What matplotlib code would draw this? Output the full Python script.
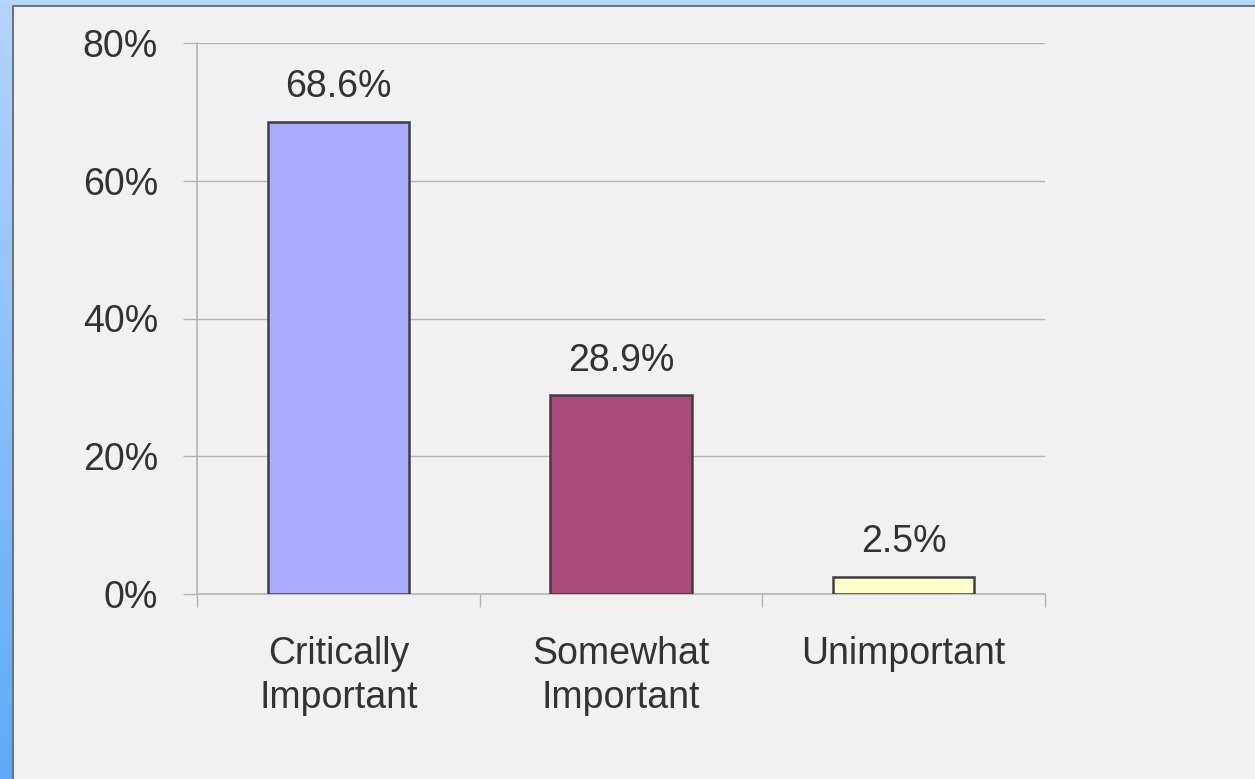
import numpy as np
import matplotlib
matplotlib.use("Agg")
import matplotlib.pyplot as plt
from matplotlib.patches import Rectangle
from matplotlib.ticker import FixedLocator, FuncFormatter

# Survey responses: share of respondents per importance rating
categories = ["Critically\nImportant", "Somewhat\nImportant", "Unimportant"]
shares = [68.6, 28.9, 2.5]
bar_colors = ["#aaaaff", "#a94a78", "#ffffcc"]
y_ticks = [0, 20, 40, 60, 80]

W, H = 1255, 779
fig = plt.figure(figsize=(W / 100, H / 100), dpi=100, facecolor="#f1f1f1")

plt.rcParams["font.family"] = ["Liberation Sans", "DejaVu Sans"]
text_color = "#333333"
fsize = 27

# Window-style frame: blue strip on the left, thin band on top
def px_rect(x, y, w, h, color):
    fig.patches.append(Rectangle((x / W, 1 - (y + h) / H), w / W, h / H,
                                 transform=fig.transFigure, color=color,
                                 lw=0, zorder=0))

strip = fig.add_axes([0, 0, 12 / W, 1])
grad = np.linspace(0, 1, 256).reshape(-1, 1)
top_c = np.array([0xb4, 0xd4, 0xfc]) / 255
bot_c = np.array([0x5e, 0xaa, 0xf6]) / 255
img = top_c[None, None, :] * (1 - grad[..., None]) + bot_c[None, None, :] * grad[..., None]
strip.imshow(img, aspect="auto", extent=(0, 1, 0, 1))
strip.axis("off")
px_rect(0, 0, W, 5, "#b4d6fd")
px_rect(12, 5, W - 12, 2, "#6e737a")
px_rect(12, 5, 2, H - 5, "#6e737a")

ax = fig.add_axes([197 / W, 1 - 594 / H, (1045 - 197) / W, (594 - 43) / H])
ax.set_facecolor("#f1f1f1")

x = np.arange(len(categories)) + 0.5
ax.bar(x, shares, width=0.5, color=bar_colors, edgecolor="#3e3e44",
       linewidth=1.8, zorder=3)

for xi, v in zip(x, shares):
    ax.annotate(f"{v:.1f}%", (xi, v), xytext=(0, 17.5), textcoords="offset points",
                ha="center", va="baseline", fontsize=fsize, color=text_color)

ax.set_xlim(0, 3)
ax.set_ylim(0, 80)

grid_c = "#b4b4b4"
ax.yaxis.set_major_locator(FixedLocator(y_ticks))
ax.yaxis.set_major_formatter(FuncFormatter(lambda v, p: f"{v:.0f}%"))
ax.tick_params(axis="y", length=10, width=1, color=grid_c, pad=18,
               labelsize=fsize, labelcolor=text_color)
for yv in y_ticks[1:]:
    ax.axhline(yv, color=grid_c, lw=1, zorder=1)

ax.set_xticks(x)
ax.set_xticklabels(categories, linespacing=1.29)
ax.set_xticks([0, 1, 2, 3], minor=True)
ax.tick_params(axis="x", which="major", length=0, pad=30,
               labelsize=fsize, labelcolor=text_color)
ax.tick_params(axis="x", which="minor", length=9.5, width=1, color=grid_c)

for s in ["top", "right"]:
    ax.spines[s].set_visible(False)
for s in ["left", "bottom"]:
    ax.spines[s].set_color(grid_c)
    ax.spines[s].set_linewidth(1.2)

fig.savefig("out.png", dpi=100, facecolor=fig.get_facecolor())
